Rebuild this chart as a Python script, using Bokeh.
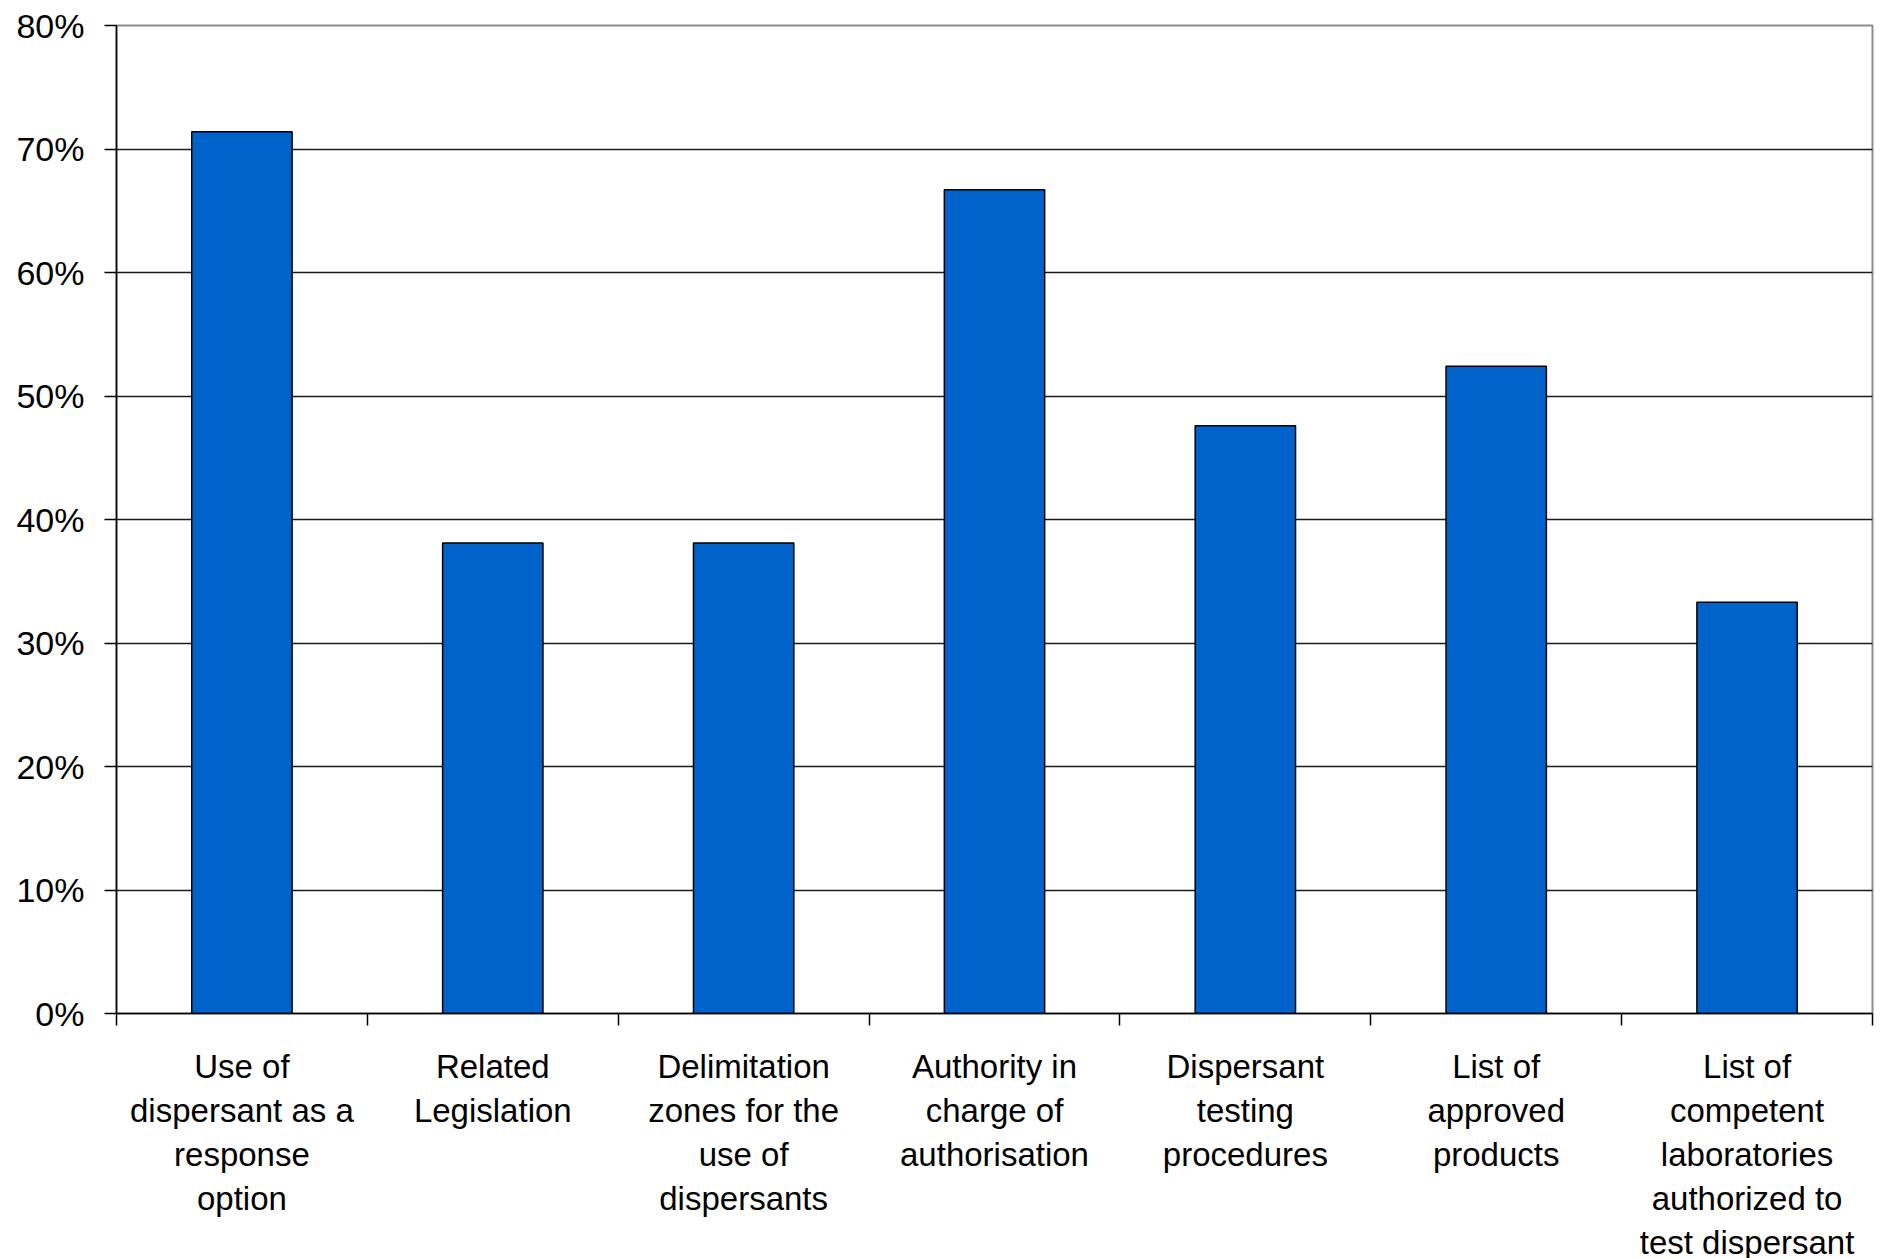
from bokeh.plotting import figure
from bokeh.models import FixedTicker, NumeralTickFormatter, Range1d, ColumnDataSource
from bokeh.embed import file_html
from bokeh.resources import INLINE

categories = [
    "Use of\ndispersant as a\nresponse\noption",
    "Related\nLegislation",
    "Delimitation\nzones for the\nuse of\ndispersants",
    "Authority in\ncharge of\nauthorisation",
    "Dispersant\ntesting\nprocedures",
    "List of\napproved\nproducts",
    "List of\ncompetent\nlaboratories\nauthorized to\ntest dispersant",
]
values = [0.714, 0.381, 0.381, 0.667, 0.476, 0.524, 0.333]
y_ticks = [0.0, 0.1, 0.2, 0.3, 0.4, 0.5, 0.6, 0.7, 0.8]

n = len(categories)
centers = [i + 0.5 for i in range(n)]
bounds = list(range(n + 1))

src = ColumnDataSource(dict(x=centers, top=values))

FONT = "Liberation Sans"

p = figure(
    frame_width=1756, frame_height=988,
    min_border_left=116, min_border_top=25, min_border_right=6, min_border_bottom=10,
    x_range=Range1d(0, n), y_range=Range1d(0, 0.8),
    output_backend="svg", toolbar_location=None,
    background_fill_color="white", border_fill_color="white",
)

p.vbar(x="x", top="top", width=0.4, bottom=0, source=src,
       fill_color="#0063CB", line_color="#000000", line_width=1.5)

# grid
p.xgrid.visible = False
p.ygrid.ticker = FixedTicker(ticks=y_ticks[1:-1])
p.ygrid.grid_line_color = "#1a1a1a"
p.ygrid.grid_line_width = 1.3

p.outline_line_color = "#8c8c8c"
p.outline_line_width = 2

# y axis
ya = p.yaxis[0]
ya.ticker = FixedTicker(ticks=y_ticks)
ya.formatter = NumeralTickFormatter(format="0%")
ya.axis_line_color = "black"
ya.axis_line_width = 1.5
ya.major_tick_line_color = "black"
ya.major_tick_line_width = 1.5
ya.major_tick_out = 12
ya.major_tick_in = 0
ya.minor_tick_line_color = None
ya.major_label_text_font = FONT
ya.major_label_text_font_size = "34px"
ya.major_label_text_color = "black"
ya.major_label_standoff = 20

# x axis
xa = p.xaxis[0]
xa.ticker = FixedTicker(ticks=centers, minor_ticks=bounds)
xa.major_label_overrides = {c: lab for c, lab in zip(centers, categories)}
xa.axis_line_color = "black"
xa.axis_line_width = 1.5
xa.major_tick_line_color = None
xa.major_tick_out = 12
xa.major_tick_in = 0
xa.minor_tick_line_color = "black"
xa.minor_tick_line_width = 1.5
xa.minor_tick_out = 12
xa.minor_tick_in = 0
xa.major_label_text_font = FONT
xa.major_label_text_font_size = "33px"
xa.major_label_text_color = "black"
xa.major_label_text_line_height = 1.19
xa.major_label_standoff = 22

open("out.html", "w").write(file_html(p, INLINE))
